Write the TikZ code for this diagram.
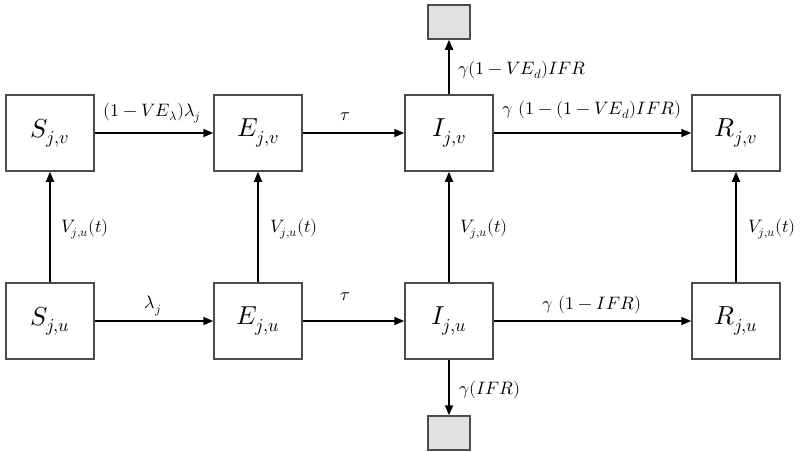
\documentclass[tikz,border=0pt]{standalone}
\usepackage{unicode-math}
\setmathfont{Latin Modern Math}
\usetikzlibrary{arrows.meta}
\begin{document}
\begin{tikzpicture}[x=1pt,y=-1pt,
  box/.style={draw=black!70,line width=1.5pt,minimum width=88pt,minimum height=76pt,inner sep=0pt,font=\fontsize{26}{30}\selectfont},
  sink/.style={draw=black!70,fill=black!12,line width=1.5pt,minimum width=42pt,minimum height=34pt,inner sep=0pt},
  arr/.style={line width=1.7pt,-{Triangle[length=10pt,width=8pt]}},
  lbl/.style={inner sep=1pt,font=\fontsize{18}{21}\selectfont}]
\useasboundingbox (0,0) rectangle (800,451);
\node[box] (Sv) at (50,133) {$S_{j,v}$};
\node[box] (Ev) at (258,133) {$E_{j,v}$};
\node[box] (Iv) at (449,133) {$I_{j,v}$};
\node[box] (Rv) at (736,133) {$R_{j,v}$};
\node[box] (Su) at (50,321) {$S_{j,u}$};
\node[box] (Eu) at (258,321) {$E_{j,u}$};
\node[box] (Iu) at (449,321) {$I_{j,u}$};
\node[box] (Ru) at (736,321) {$R_{j,u}$};
\node[sink] (Dt) at (449,22) {};
\node[sink] (Db) at (449,433) {};
\draw[arr] (Sv) -- (Ev);
\draw[arr] (Ev) -- (Iv);
\draw[arr] (Iv) -- (Rv);
\draw[arr] (Su) -- (Eu);
\draw[arr] (Eu) -- (Iu);
\draw[arr] (Iu) -- (Ru);
\draw[arr] (Su) -- (Sv);
\draw[arr] (Eu) -- (Ev);
\draw[arr] (Iu) -- (Iv);
\draw[arr] (Ru) -- (Rv);
\draw[arr] (Iv) -- (Dt);
\draw[arr] (Iu) -- (Db);
\node[lbl] (l1) at (152,113) {$(1-VE_\lambda)\lambda_j$};
\node[lbl] (l2) at (345,117) {$\tau$};
\node[lbl] (l3) at (592,110) {$\gamma\ (1-(1-VE_d)IFR)$};
\node[lbl] (l4) at (522,70) {$\gamma(1-VE_d)IFR$};
\node[lbl] (l5) at (153,306) {$\lambda_j$};
\node[lbl] (l6) at (345,297) {$\tau$};
\node[lbl] (l7) at (592,305) {$\gamma\ (1-IFR)$};
\node[lbl] (l8) at (490,390) {$\gamma(IFR)$};
\node[lbl] (v1) at (85,229) {$V_{j,u}(t)$};
\node[lbl] (v2) at (294,229) {$V_{j,u}(t)$};
\node[lbl] (v3) at (484,229) {$V_{j,u}(t)$};
\node[lbl] (v4) at (772,229) {$V_{j,u}(t)$};
\end{tikzpicture}
\end{document}
